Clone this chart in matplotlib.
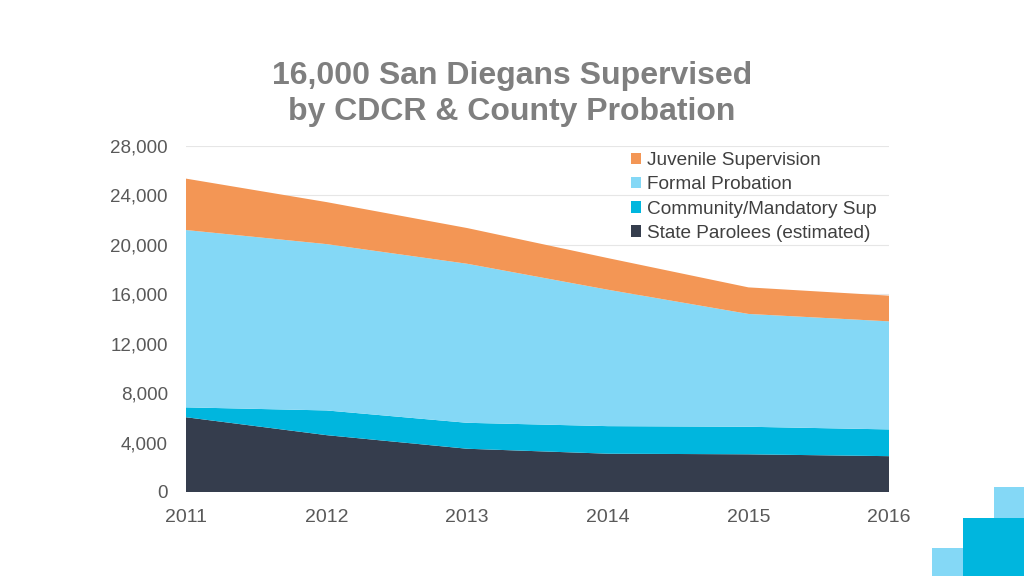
import matplotlib.pyplot as plt
from matplotlib.patches import Rectangle

# data
years = [2011, 2012, 2013, 2014, 2015, 2016]
parolees = [6050, 4600, 3500, 3100, 3050, 2900]
community = [800, 2000, 2100, 2230, 2230, 2165]
formal = [14350, 13460, 12870, 11040, 9130, 8745]
juvenile = [4160, 3400, 2890, 2560, 2150, 2080]

series_labels = ['State Parolees (estimated)', 'Community/Mandatory Sup',
                 'Formal Probation', 'Juvenile Supervision']
colors = ['#353d4d', '#00b6de', '#84d8f6', '#f39655']
yticks = [0, 4000, 8000, 12000, 16000, 20000, 24000, 28000]

plt.rcParams['font.family'] = ['Liberation Sans', 'DejaVu Sans']

fig = plt.figure(figsize=(10.24, 5.76), dpi=100)
ax = fig.add_axes([186 / 1024, 1 - 492 / 576, 703 / 1024, 346 / 576])

ax.stackplot(years, parolees, community, formal, juvenile,
             colors=colors, labels=series_labels, linewidth=0)

ax.set_xlim(years[0], years[-1])
ax.set_ylim(0, 28000)
ax.set_yticks(yticks)
ax.set_yticklabels(['{:,}'.format(v) for v in yticks])
ax.set_xticks(years)
ax.grid(axis='y', color='#e6e6e6', linewidth=0.8)
ax.set_axisbelow(True)
for s in ax.spines.values():
    s.set_visible(False)
ax.tick_params(length=0, colors='#595959')
ax.tick_params(axis='y', labelsize=13.5, pad=13)
ax.tick_params(axis='x', labelsize=14, pad=12)

# legend in reverse order (top layer first)
handles, labels = ax.get_legend_handles_labels()
leg = ax.legend(handles[::-1], labels[::-1], loc='upper left',
                bbox_to_anchor=(0.614, 1.021), frameon=False, fontsize=13.7,
                handlelength=0.55, handleheight=0.55, handletextpad=0.3,
                labelspacing=0.38, borderaxespad=0.3)
for t in leg.get_texts():
    t.set_color('#404040')

fig.text(0.5, 1 - 94 / 576, '16,000 San Diegans Supervised\nby CDCR & County Probation',
         ha='center', va='center', fontsize=23, fontweight='bold',
         color='#7f7f7f', linespacing=1.3)

# decorative squares, bottom right corner
deco = [(994, 487, 30, 31, '#84d8f6'),
        (963, 518, 61, 58, '#00b6de'),
        (932, 548, 31, 28, '#84d8f6')]
for x, y, w, h, c in deco:
    fig.patches.append(Rectangle((x / 1024, 1 - (y + h) / 576), w / 1024, h / 576,
                                 transform=fig.transFigure, color=c, linewidth=0))

fig.savefig('out.png', dpi=100)
